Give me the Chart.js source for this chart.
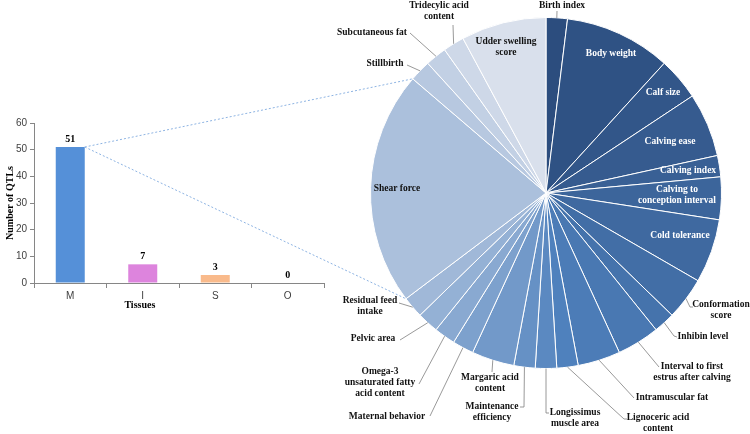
<!DOCTYPE html>
<html>
<head>
<meta charset="utf-8">
<script src="https://cdn.jsdelivr.net/npm/chart.js@4.4.0/dist/chart.umd.min.js"></script>
<style>
  html, body { margin: 0; padding: 0; background: #fff; }
  #wrap { position: relative; width: 750px; height: 434px; }
  #wrap canvas { position: absolute; left: 0; top: 0; }
</style>
</head>
<body>
<div id="wrap">
  <canvas id="bar-chart" width="750" height="434"></canvas>
  <canvas id="pie-chart" width="750" height="434"></canvas>
</div>
<script>
// QTLs per tissue
const tissues = ['M', 'I', 'S', 'O'];
const tissueCounts = [51, 7, 3, 0];
const tissueColors = ['#5590D8', '#DD84DD', '#F9BA8B', '#A6A6A6'];

// QTLs in tissue M by trait (sums to 51)
const traits = [
  'Birth index', 'Body weight', 'Calf size', 'Calving ease', 'Calving index',
  'Calving to conception interval', 'Cold tolerance', 'Conformation score',
  'Inhibin level', 'Interval to first estrus after calving', 'Intramuscular fat',
  'Lignoceric acid content', 'Longissimus muscle area', 'Maintenance efficiency',
  'Margaric acid content', 'Maternal behavior', 'Omega-3 unsaturated fatty acid content',
  'Pelvic area', 'Residual feed intake', 'Shear force', 'Stillbirth',
  'Subcutaneous fat', 'Tridecylic acid content', 'Udder swelling score'
];
const traitCounts = [1, 5, 2, 3, 1, 2, 3, 2, 1, 2, 2, 1, 1, 1, 2, 1, 1, 1, 1, 11, 1, 1, 1, 4];

// label placement, offsets from the pie centre
const traitLayout = [
  { at: [16, -187], leader: [[11, -182]] },
  { at: [65, -139], inside: true },
  { at: [117, -100], inside: true },
  { at: [124, -51], inside: true },
  { at: [142, -22], inside: true },
  { at: [131, 2], inside: true, lines: ['Calving to', 'conception interval'] },
  { at: [134, 43], inside: true },
  { at: [175, 117], lines: ['Conformation', 'score'], leader: [[144, 114], [147, 114]] },
  { at: [157, 144], leader: [[128, 143], [131, 144]] },
  { at: [146, 179.5], lines: ['Interval to first', 'estrus after calving'], leader: [[113, 174]] },
  { at: [126, 205], leader: [[88, 205]] },
  { at: [112, 230.5], lines: ['Lignoceric acid', 'content'], leader: [[78, 226], [81, 226]] },
  { at: [29, 225.5], lines: ['Longissimus', 'muscle area'], leader: [[0, 220], [3, 220]] },
  { at: [-54, 219.5], lines: ['Maintenance', 'efficiency'], leader: [[-22, 214], [-26, 214]] },
  { at: [-56, 190.5], lines: ['Margaric acid', 'content'], leader: [[-54, 179]] },
  { at: [-159, 224], leader: [[-116, 223]] },
  { at: [-166, 190], lines: ['Omega-3', 'unsaturated fatty', 'acid content'], leader: [[-127, 191]] },
  { at: [-173, 146], leader: [[-146, 147]] },
  { at: [-176, 113.5], lines: ['Residual feed', 'intake'], leader: [[-147, 110]] },
  { at: [-149, -4], inside: true, dark: true },
  { at: [-161, -129], leader: [[-139, -128]] },
  { at: [-174, -160], leader: [[-136, -160]] },
  { at: [-107, -181.5], lines: ['Tridecylic acid', 'content'], leader: [[-93, -168]] },
  { at: [-40, -146], inside: true, dark: true, lines: ['Udder swelling', 'score'] }
];

// monochrome blue shading, dark -> accent -> light
function sliceColors(n) {
  const stops = [[44, 77, 126], [79, 129, 189], [217, 224, 236]];
  const mid = Math.round((n - 1) * 0.46);
  const out = [];
  for (let i = 0; i < n; i++) {
    const [a, b, t] = i <= mid ? [stops[0], stops[1], i / mid] : [stops[1], stops[2], (i - mid) / (n - 1 - mid)];
    const c = a.map((v, k) => Math.round(v + (b[k] - v) * t));
    out.push(`rgb(${c[0]},${c[1]},${c[2]})`);
  }
  return out;
}

const serifBold = 'bold 9.5px "Liberation Serif", "Times New Roman", serif';
const axisGrey = '#868686';

const barExtras = {
  id: 'barExtras',
  afterDatasetsDraw(chart) {
    const { ctx, chartArea } = chart;
    const bars = chart.getDatasetMeta(0).data;
    ctx.save();
    ctx.font = 'bold 10px "Liberation Serif", serif';
    ctx.fillStyle = '#000';
    ctx.textAlign = 'center';
    ctx.textBaseline = 'bottom';
    bars.forEach((bar, i) => ctx.fillText(String(tissueCounts[i]), bar.x, bar.y - 3));
    const xs = chart.scales.x;
    ctx.textBaseline = 'middle';
    ctx.fillText('Tissues', xs.left + (xs.right - xs.left) * 0.365, chartArea.bottom + 22);
    ctx.restore();
  }
};

const barChart = new Chart(document.getElementById('bar-chart'), {
  type: 'bar',
  data: {
    labels: tissues,
    datasets: [{
      data: tissueCounts,
      backgroundColor: tissueColors,
      barPercentage: 0.4,
      categoryPercentage: 1.0
    }]
  },
  options: {
    responsive: false,
    animation: false,
    layout: { padding: { top: 123, right: 426, left: 0, bottom: 0 } },
    plugins: { legend: { display: false }, tooltip: { enabled: false } },
    scales: {
      x: {
        afterFit: (s) => { s.height = 151; },
        grid: { drawOnChartArea: false, tickLength: 5, color: axisGrey },
        border: { color: axisGrey },
        ticks: { color: '#404040', padding: 2, font: { family: '"Liberation Sans", sans-serif', size: 10 } }
      },
      y: {
        min: 0,
        max: 60,
        afterFit: (s) => { s.width = 34; },
        grid: { drawOnChartArea: false, tickLength: 4, color: axisGrey },
        border: { color: axisGrey },
        ticks: { stepSize: 10, color: '#404040', padding: 3, font: { family: '"Liberation Sans", sans-serif', size: 10 } },
        title: {
          display: true,
          text: 'Number of QTLs',
          color: '#000',
          padding: { top: 4, bottom: 0 },
          font: { family: '"Liberation Serif", serif', size: 10, weight: 'bold' }
        }
      }
    }
  },
  plugins: [barExtras]
});

const pieLabels = {
  id: 'pieLabels',
  afterDatasetsDraw(chart) {
    const { ctx } = chart;
    const arcs = chart.getDatasetMeta(0).data;
    ctx.save();

    // dotted zoom lines from the M bar to the Shear force slice
    const bar = barChart.getDatasetMeta(0).data[0];
    const shear = arcs[traits.indexOf('Shear force')];
    ctx.strokeStyle = '#8DB3E2';
    ctx.lineWidth = 1;
    ctx.setLineDash([2, 2]);
    [shear.endAngle, shear.startAngle].forEach(a => {
      ctx.beginPath();
      ctx.moveTo(bar.x + bar.width / 2, bar.y);
      ctx.lineTo(shear.x + shear.outerRadius * Math.cos(a), shear.y + shear.outerRadius * Math.sin(a));
      ctx.stroke();
    });
    ctx.setLineDash([]);

    ctx.font = serifBold;
    ctx.textAlign = 'center';
    ctx.textBaseline = 'middle';
    arcs.forEach((arc, i) => {
      const lay = traitLayout[i];
      const mid = (arc.startAngle + arc.endAngle) / 2;
      if (lay.leader) {
        ctx.strokeStyle = '#7f7f7f';
        ctx.lineWidth = 0.8;
        ctx.beginPath();
        ctx.moveTo(arc.x + arc.outerRadius * Math.cos(mid), arc.y + arc.outerRadius * Math.sin(mid));
        lay.leader.forEach(p => ctx.lineTo(arc.x + p[0], arc.y + p[1]));
        ctx.stroke();
      }
      ctx.fillStyle = lay.inside && !lay.dark ? '#ffffff' : '#111111';
      const lines = lay.lines || [traits[i]];
      lines.forEach((t, k) => {
        ctx.fillText(t, arc.x + lay.at[0], arc.y + lay.at[1] + (k - (lines.length - 1) / 2) * 11);
      });
    });
    ctx.restore();
  }
};

new Chart(document.getElementById('pie-chart'), {
  type: 'pie',
  data: {
    labels: traits,
    datasets: [{
      data: traitCounts,
      backgroundColor: sliceColors(traitCounts.length),
      borderColor: '#ffffff',
      borderWidth: 1
    }]
  },
  options: {
    responsive: false,
    animation: false,
    layout: { padding: { left: 370, right: 28, top: 17, bottom: 65 } },
    plugins: { legend: { display: false }, tooltip: { enabled: false } }
  },
  plugins: [pieLabels]
});
</script>
</body>
</html>
